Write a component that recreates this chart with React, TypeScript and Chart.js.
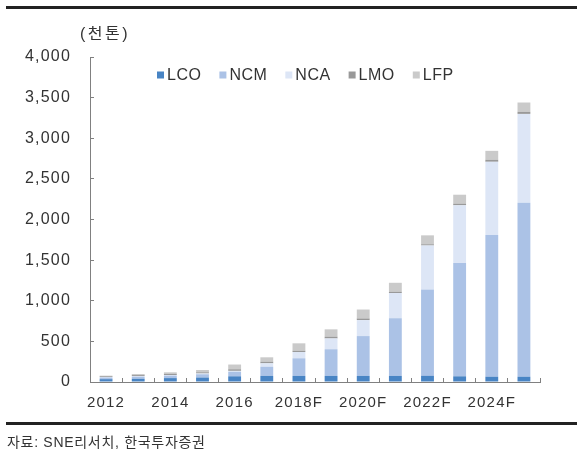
import React, { useEffect, useRef } from "react";
import { Chart, registerables } from "chart.js";

Chart.register(...registerables);

const categories = ["2012", "2013", "2014", "2015", "2016", "2017", "2018F", "2019F", "2020F", "2021F", "2022F", "2023F", "2024F", "2025F"];
const lcoValues = [35, 40, 48, 55, 70, 75, 75, 75, 75, 75, 75, 70, 65, 65];
const ncmValues = [20, 25, 30, 40, 55, 113, 217, 328, 490, 710, 1065, 1395, 1745, 2140];
const ncaValues = [6, 8, 8, 10, 12, 42, 77, 133, 197, 310, 540, 710, 900, 1095];
const lmoValues = [10, 12, 15, 15, 20, 20, 16, 22, 20, 16, 15, 20, 25, 25];
const lfpValues = [7, 13, 18, 28, 58, 54, 91, 90, 110, 110, 110, 110, 110, 115];
const yTicks = [0, 500, 1000, 1500, 2000, 2500, 3000, 3500, 4000];

const FONT = "'Liberation Sans', Arial, 'Noto Sans CJK KR', sans-serif";
const TEXT = "#333333";

const spacingPlugin = {
  id: "spacing",
  beforeDraw(chart: any) {
    const ctx = chart.ctx as any;
    ctx.letterSpacing = "1.2px";
  },
};

const legendPlugin = {
  id: "customLegend",
  afterDraw(chart: any) {
    const ctx = chart.ctx as any;
    ctx.save();
    ctx.letterSpacing = "0.5px";
    ctx.font = `16px ${FONT}`;
    ctx.textBaseline = "middle";
    ctx.textAlign = "left";
    let x = 157;
    const y = 75;
    chart.data.datasets.forEach((ds: any) => {
      ctx.fillStyle = ds.backgroundColor;
      ctx.fillRect(x, y - 3.5, 7, 7);
      ctx.fillStyle = TEXT;
      ctx.fillText(ds.label, x + 10, y + 1);
      const w = ctx.measureText(ds.label).width;
      x += 10 + w + 18;
    });
    ctx.restore();
  },
};

export default function App() {
  const ref = useRef<HTMLCanvasElement | null>(null);
  useEffect(() => {
    if (!ref.current) return;
    const chart = new Chart(ref.current, {
      type: "bar",
      data: {
        labels: categories,
        datasets: [
          { label: "LCO", data: lcoValues, backgroundColor: "#4884c4" },
          { label: "NCM", data: ncmValues, backgroundColor: "#abc2e6" },
          { label: "NCA", data: ncaValues, backgroundColor: "#dde6f6" },
          { label: "LMO", data: lmoValues, backgroundColor: "#999999" },
          { label: "LFP", data: lfpValues, backgroundColor: "#cacaca" },
        ],
      },
      options: {
        responsive: false,
        animation: false,
        layout: { padding: { top: 57, left: 0, right: 41, bottom: 0 } },
        datasets: { bar: { barPercentage: 0.4, categoryPercentage: 1 } },
        plugins: {
          legend: { display: false },
          tooltip: { enabled: false },
          title: { display: false },
        },
        scales: {
          x: {
            stacked: true,
            afterFit: (s: any) => {
              s.height = 73;
            },
            border: { display: true, color: "#808080", width: 1 },
            grid: { display: true, drawOnChartArea: false, drawTicks: true, tickLength: -4, color: "#808080", offset: true },
            ticks: {
              autoSkip: false,
              maxRotation: 0,
              padding: 16,
              color: TEXT,
              font: { family: FONT, size: 15 },
              callback: (_v: any, i: number) => (i % 2 === 0 ? categories[i] : ""),
            },
          },
          y: {
            stacked: true,
            min: 0,
            max: 4000,
            afterFit: (s: any) => {
              s.width = 90;
            },
            afterBuildTicks: (s: any) => {
              s.ticks = yTicks.map((v) => ({ value: v }));
            },
            border: { display: true, color: "#808080", width: 1 },
            grid: { display: true, drawOnChartArea: false, drawTicks: true, tickLength: -4, color: "#808080" },
            ticks: {
              padding: 23,
              color: TEXT,
              font: { family: FONT, size: 16 },
              callback: (v: any) => Number(v).toLocaleString("en-US"),
            },
          },
        },
      },
      plugins: [spacingPlugin, legendPlugin],
    });
    return () => chart.destroy();
  }, []);

  return (
    <div style={{ position: "absolute", left: 0, top: 0, width: 581, height: 455, background: "#ffffff", overflow: "hidden" }}>
      <div style={{ position: "absolute", left: 6, top: 6, width: 571, height: 3, background: "#222222" }} />
      <canvas ref={ref} width={581} height={455} style={{ position: "absolute", left: 0, top: 0, width: 581, height: 455 }} />
      <div
        style={{
          position: "absolute",
          left: 80,
          top: 24,
          fontFamily: FONT,
          fontSize: 16,
          lineHeight: "20px",
          letterSpacing: "2.5px",
          color: TEXT,
          whiteSpace: "nowrap",
        }}
      >
        (천톤)
      </div>
      <div style={{ position: "absolute", left: 6, top: 422, width: 571, height: 3, background: "#222222" }} />
      <div
        style={{
          position: "absolute",
          left: 7,
          top: 433,
          fontFamily: FONT,
          fontSize: 14,
          lineHeight: "18px",
          letterSpacing: "0.7px",
          color: TEXT,
          whiteSpace: "nowrap",
        }}
      >
        자료: SNE리서치, 한국투자증권
      </div>
    </div>
  );
}
